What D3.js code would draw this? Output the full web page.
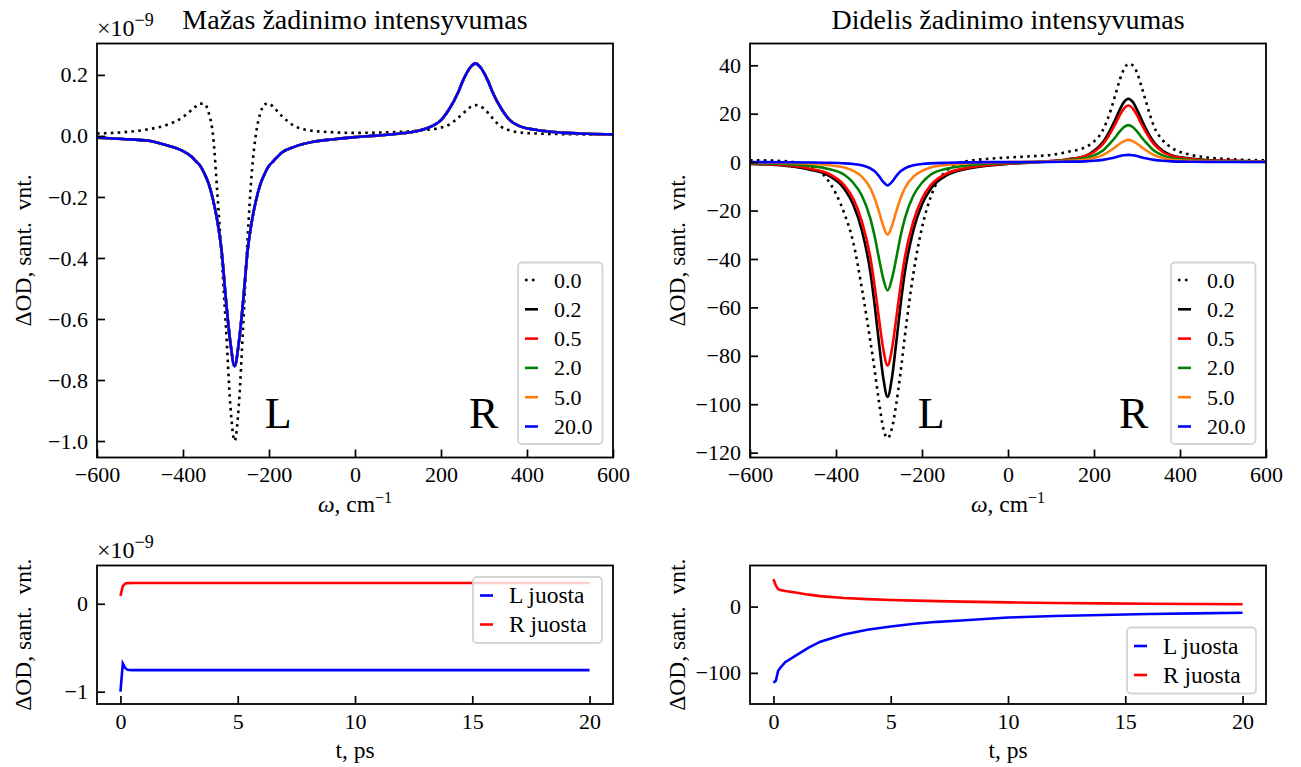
<!DOCTYPE html>
<html>
<head>
<meta charset="utf-8">
<script src="https://cdn.jsdelivr.net/npm/d3@7"></script>
<style>
body{margin:0;background:#fff}
svg text{font-family:"Liberation Serif","Times New Roman",serif;fill:#000}
</style>
</head>
<body>
<div id="w"></div>
<script>
// --- spectra, weak excitation (x1e-9)
var omegaWeak = [-600,-540,-480,-440,-400,-380,-370,-360,-350,-340,-330,-320,-310,-300,-290,-280,-270,-260,-250,-240,-230,-220,-210,-200,-190,-170,-140,-100,-50,0,50,100,150,180,200,220,240,250,260,270,280,290,300,310,320,340,360,380,420,480,540,600]
var weakDotted = [0.008,0.012,0.022,0.035,0.062,0.085,0.097,0.106,0.105,0.075,0.0,-0.19,-0.40,-0.63,-0.88,-1.0,-0.88,-0.62,-0.34,-0.12,0.01,0.075,0.104,0.106,0.095,0.065,0.032,0.017,0.012,0.01,0.011,0.013,0.018,0.022,0.027,0.038,0.06,0.072,0.085,0.096,0.101,0.098,0.089,0.075,0.058,0.03,0.018,0.012,0.008,0.006,0.005,0.004]
var weakSolid = [-0.006,-0.01,-0.016,-0.03,-0.05,-0.068,-0.083,-0.098,-0.124,-0.158,-0.21,-0.28,-0.38,-0.54,-0.675,-0.755,-0.675,-0.54,-0.38,-0.28,-0.21,-0.158,-0.124,-0.098,-0.083,-0.054,-0.035,-0.02,-0.011,-0.004,0.001,0.007,0.018,0.033,0.052,0.09,0.143,0.178,0.207,0.228,0.238,0.228,0.207,0.178,0.143,0.09,0.052,0.034,0.02,0.011,0.007,0.005]

// --- spectra, strong excitation
var omegaStrong = [-600,-520,-460,-420,-380,-360,-340,-320,-310,-300,-290,-280,-270,-260,-250,-240,-220,-200,-180,-140,-100,-50,0,50,100,140,180,200,220,240,250,260,270,280,290,300,310,320,340,360,380,420,460,520,600]
var strong00 = [0.8,0.4,-1.8,-7.2,-21.5,-33,-52,-74,-86,-99,-110,-114,-110,-100,-87,-72,-46,-27,-14.5,-3.0,0.2,1.3,1.9,2.4,3.0,4.3,6.2,8.5,13,22,28,34,38.5,40.6,40,37,31.5,25.5,14.5,9,6,3.2,2.0,1.2,0.7]
var strong02 = [-0.7,-1.5,-3.1,-5.3,-11.2,-17.5,-28.1,-45.6,-59.2,-74.7,-89.2,-97,-89.2,-74.7,-59.2,-45.6,-28.1,-17.5,-11.1,-5.2,-2.9,-1.5,-0.7,-0.2,0.4,1.2,2.6,4.7,8.1,14.1,17.8,21.7,24.9,26.2,24.9,21.7,17.8,14.1,8.1,4.7,2.9,1.6,0.9,0.5,0.3]
var strong05 = [-0.65,-1.3,-2.7,-4.6,-9.7,-15.1,-24.4,-39.5,-51.2,-64.7,-77.3,-84,-77.3,-64.7,-51.2,-39.5,-24.4,-15.1,-9.6,-4.5,-2.5,-1.3,-0.6,-0.1,0.4,1.1,2.5,4.2,7.3,12.6,15.9,19.4,22.2,23.4,22.2,19.4,15.9,12.6,7.3,4.2,2.6,1.4,0.8,0.5,0.2]
var strong20 = [-0.4,-0.8,-1.6,-2.7,-5.3,-8.5,-13.8,-23.3,-30.7,-39.8,-48.2,-53,-48.2,-39.8,-30.7,-23.3,-13.8,-8.5,-5.2,-2.6,-1.5,-0.7,-0.3,0,0.3,0.8,1.7,2.8,4.7,8.3,10.4,12.7,14.5,15.3,14.5,12.7,10.4,8.3,4.7,2.8,1.7,0.9,0.5,0.3,0.15]
var strong50 = [-0.15,-0.3,-0.6,-1.2,-2.25,-3.6,-6,-10.8,-15,-20.4,-26.4,-30,-26.4,-20.4,-15,-10.8,-6,-3.6,-2.2,-1.1,-0.5,-0.2,0,0.1,0.3,0.5,1.0,1.7,2.9,5.0,6.3,7.6,8.7,9.2,8.7,7.6,6.3,5.0,2.9,1.7,1.0,0.5,0.3,0.15,0.1]
var strong200 = [0,-0.05,-0.15,-0.25,-0.5,-0.8,-1.3,-2.6,-3.8,-5.8,-8.2,-9.6,-8.2,-5.8,-3.8,-2.6,-1.3,-0.8,-0.5,-0.25,-0.1,0,0,0.05,0.1,0.2,0.33,0.54,0.93,1.6,2.0,2.5,2.85,3.0,2.85,2.5,2.0,1.6,0.93,0.54,0.33,0.18,0.1,0.05,0.03]

var delays = ["0.0","0.2","0.5","2.0","5.0","20.0"]
var delayColors = ["#000000","#000000","#ff0000","#008000","#ff7f0e","#0000ff"]

// --- band kinetics
var tWeak = [0,0.1,0.2,0.3,0.5,1,2,5,10,15,20]
var weakBandL = [-1.0,-0.68,-0.73,-0.75,-0.755,-0.755,-0.755,-0.755,-0.755,-0.755,-0.755]
var weakBandR = [0.09,0.2,0.228,0.235,0.236,0.236,0.236,0.236,0.236,0.236,0.236]
var tStrong = [0,0.1,0.2,0.3,0.5,1,1.5,2,3,4,5,6,7,8,10,12,14,16,18,20]
var strongBandL = [-115,-112,-97,-92,-84,-73,-62,-53,-42,-35,-30,-26,-23,-21,-16.5,-14.3,-12.6,-11.3,-10.3,-9.4]
var strongBandR = [41.5,32,26.2,25,23.4,21,18,15.8,13,11.3,10,9,8.2,7.5,6.3,5.4,4.8,4.3,3.9,3.5]
var bandNames = ["L juosta","R juosta"]
var bandColors = ["#0000ff","#ff0000"]

var omegaTicks = [-600,-400,-200,0,200,400,600]
var tTicks = [0,5,10,15,20]

var W = 1301, H = 767
var svg = d3.select("#w").append("svg").attr("width", W).attr("height", H)
svg.append("rect").attr("width", W).attr("height", H).attr("fill", "#fff")
var clipN = 0

function panel(b, xdom, ydom, xticks, yticks, yfmt) {
  var x = d3.scaleLinear().domain(xdom).range([b.x0, b.x1])
  var y = d3.scaleLinear().domain(ydom).range([b.y1, b.y0])
  var id = "clip" + (clipN++)
  svg.append("clipPath").attr("id", id).append("rect")
    .attr("x", b.x0).attr("y", b.y0).attr("width", b.x1 - b.x0).attr("height", b.y1 - b.y0)
  var plot = svg.append("g").attr("clip-path", "url(#" + id + ")")
  var axes = svg.append("g")
  return {x: x, y: y, b: b, plot: plot, axes: axes, xticks: xticks, yticks: yticks, yfmt: yfmt}
}

function drawAxes(p) {
  var b = p.b
  var ax = p.axes
  var gx = ax.append("g").attr("transform", "translate(0," + b.y1 + ")")
    .call(d3.axisBottom(p.x).tickValues(p.xticks).tickFormat(d3.format("d"))
      .tickSizeInner(-8).tickSizeOuter(0).tickPadding(9))
  var gy = ax.append("g").attr("transform", "translate(" + b.x0 + ",0)")
    .call(d3.axisLeft(p.y).tickValues(p.yticks).tickFormat(p.yfmt)
      .tickSizeInner(-8).tickSizeOuter(0).tickPadding(9))
  ;[gx, gy].forEach(function(g) {
    g.select(".domain").remove()
    g.attr("font-family", null).attr("font-size", null)
    g.selectAll("line").attr("stroke", "#000").attr("stroke-width", 1.7)
    g.selectAll("text").style("font-size", "22px")
  })
  ax.append("rect").attr("x", b.x0).attr("y", b.y0)
    .attr("width", b.x1 - b.x0).attr("height", b.y1 - b.y0)
    .attr("fill", "none").attr("stroke", "#000").attr("stroke-width", 1.8)
}

function drawLine(p, xs, ys, color, dash, curve) {
  var line = d3.line().x(function(d, i) { return p.x(xs[i]) }).y(function(d) { return p.y(d) })
    .curve(curve || d3.curveMonotoneX)
  p.plot.append("path").datum(ys).attr("d", line)
    .attr("fill", "none").attr("stroke", color).attr("stroke-width", 2.6)
    .attr("stroke-dasharray", dash)
}

function legend(p, items, left, top, w, rowH, padTop, fs) {
  var g = svg.append("g")
  var h = padTop * 2 + rowH * (items.length - 1)
  g.append("rect").attr("x", left).attr("y", top).attr("width", w).attr("height", h)
    .attr("rx", 4).attr("fill", "#fff").attr("fill-opacity", 0.8)
    .attr("stroke", "#d4d4d4").attr("stroke-width", 1.8)
  items.forEach(function(it, i) {
    var cy = top + padTop + i * rowH
    g.append("line").attr("x1", left + 7).attr("x2", left + 20).attr("y1", cy).attr("y2", cy)
      .attr("stroke", it.color).attr("stroke-width", 2.6).attr("stroke-dasharray", it.dash)
    g.append("text").attr("x", left + 36).attr("y", cy + 7.5).style("font-size", fs + "px").text(it.label)
  })
}

function title(p, txt) {
  svg.append("text").attr("x", (p.b.x0 + p.b.x1) / 2).attr("y", 29)
    .attr("text-anchor", "middle").style("font-size", "28px").text(txt)
}

function ylabel(p, lx) {
  svg.append("text").attr("transform", "translate(" + lx + "," + ((p.b.y0 + p.b.y1) / 2) + ") rotate(-90)")
    .attr("text-anchor", "middle").style("font-size", "23.5px").style("white-space", "pre")
    .text("\u0394OD, sant.  vnt.")
}

function offsetText(p) {
  var t = svg.append("text").attr("x", p.b.x0).attr("y", p.b.y0 - 8).style("font-size", "24px")
  t.append("tspan").text("\u00d710")
  t.append("tspan").attr("dy", -10).style("font-size", "18px").text("\u22129")
}

function omegaLabel(p) {
  var t = svg.append("text").attr("x", (p.b.x0 + p.b.x1) / 2).attr("y", p.b.y1 + 54)
    .attr("text-anchor", "middle").style("font-size", "23.5px")
  t.append("tspan").style("font-style", "italic").text("\u03c9")
  t.append("tspan").text(", cm")
  t.append("tspan").attr("dy", -9).style("font-size", "16px").text("\u22121")
}

function tLabel(p) {
  svg.append("text").attr("x", (p.b.x0 + p.b.x1) / 2).attr("y", p.b.y1 + 54)
    .attr("text-anchor", "middle").style("font-size", "23.5px").text("t, ps")
}

function bandMarks(p, yv, xl, xr) {
  svg.append("text").attr("x", p.x(xl)).attr("y", p.y(yv)).style("font-size", "44px").text("L")
  svg.append("text").attr("x", p.x(xr)).attr("y", p.y(yv)).style("font-size", "44px").text("R")
}

// ---------- top left: weak excitation
var tl = panel({x0: 97, x1: 613, y0: 43.5, y1: 457.5}, [-600, 600], [-1.054, 0.303],
  omegaTicks, [-1.0, -0.8, -0.6, -0.4, -0.2, 0.0, 0.2], d3.format(".1f"))
var weakSpectra = [weakDotted, weakSolid, weakSolid, weakSolid, weakSolid, weakSolid]
weakSpectra.forEach(function(s, i) {
  drawLine(tl, omegaWeak, s, delayColors[i], i == 0 ? "2.6,4.3" : null)
})
drawAxes(tl)
title(tl, "Mažas žadinimo intensyvumas")
ylabel(tl, 31)
offsetText(tl)
omegaLabel(tl)
bandMarks(tl, -0.956, -210, 265)

// ---------- top right: strong excitation
var tr = panel({x0: 750, x1: 1266, y0: 43.5, y1: 457.5}, [-600, 600], [-122, 49],
  omegaTicks, [-120, -100, -80, -60, -40, -20, 0, 20, 40], d3.format("d"))
var strongSpectra = [strong00, strong02, strong05, strong20, strong50, strong200]
strongSpectra.forEach(function(s, i) {
  drawLine(tr, omegaStrong, s, delayColors[i], i == 0 ? "2.6,4.3" : null)
})
drawAxes(tr)
title(tr, "Didelis žadinimo intensyvumas")
ylabel(tr, 685)
omegaLabel(tr)
bandMarks(tr, -110, -210, 258)

// ---------- bottom left: weak kinetics
var bl = panel({x0: 97, x1: 613, y0: 565.5, y1: 704}, [-1, 21], [-1.14, 0.435],
  tTicks, [-1, 0], d3.format("d"))
drawLine(bl, tWeak, weakBandL, bandColors[0], null, d3.curveLinear)
drawLine(bl, tWeak, weakBandR, bandColors[1], null, d3.curveLinear)
drawAxes(bl)
ylabel(bl, 31)
offsetText(bl)
tLabel(bl)

// ---------- bottom right: strong kinetics
var br = panel({x0: 750, x1: 1266, y0: 565.5, y1: 704}, [-1, 21], [-147, 62],
  tTicks, [-100, 0], d3.format("d"))
drawLine(br, tStrong, strongBandL, bandColors[0], null, d3.curveLinear)
drawLine(br, tStrong, strongBandR, bandColors[1], null, d3.curveLinear)
drawAxes(br)
ylabel(br, 685)
tLabel(br)

// ---------- legends
var delayItems = delays.map(function(d, i) {
  return {label: d, color: delayColors[i], dash: i == 0 ? "2.6,4.3" : null}
})
var bandItems = bandNames.map(function(d, i) { return {label: d, color: bandColors[i], dash: null} })
legend(tl, delayItems, 518, 262.5, 84.5, 29.3, 17.5, 22)
legend(tr, delayItems, 1171, 262.5, 84.5, 29.3, 17.5, 22)
legend(bl, bandItems, 473, 577, 129, 29, 18.5, 23.5)
legend(br, bandItems, 1127, 627.5, 129, 29, 18.5, 23.5)
</script>
</body>
</html>
